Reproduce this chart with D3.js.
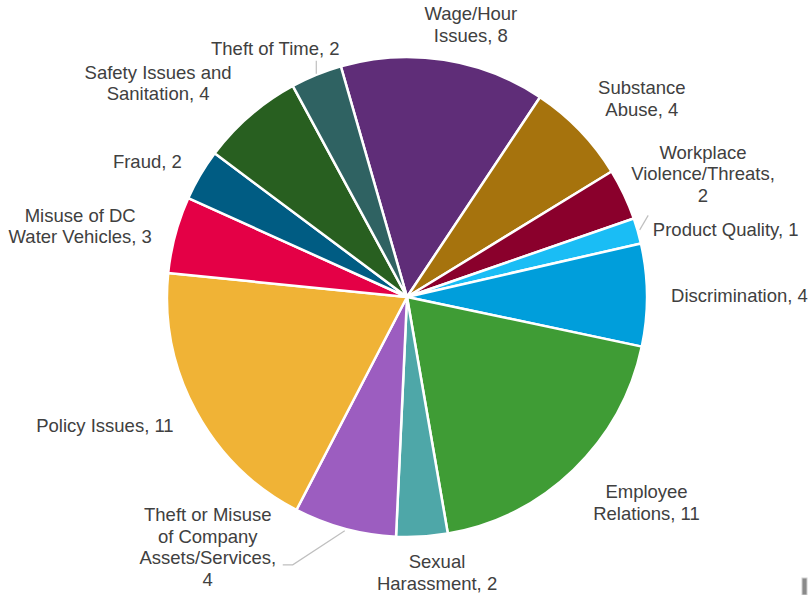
<!DOCTYPE html>
<html>
<head>
<meta charset="utf-8">
<script src="https://cdn.jsdelivr.net/npm/d3@7"></script>
<style>
  html, body { margin: 0; padding: 0; background: #ffffff; }
  svg { display: block; }
  text { font-family: "Liberation Sans", Arial, sans-serif; fill: #404040; }
</style>
</head>
<body>
<svg id="chart" width="809" height="595"></svg>
<script>
// Hotline cases by category, clockwise from the top
const categories = [
  "Wage/Hour Issues", "Substance Abuse", "Workplace Violence/Threats",
  "Product Quality", "Discrimination", "Employee Relations",
  "Sexual Harassment", "Theft or Misuse of Company Assets/Services",
  "Policy Issues", "Misuse of DC Water Vehicles", "Fraud",
  "Safety Issues and Sanitation", "Theft of Time"
];
const values = [8, 4, 2, 1, 4, 11, 2, 4, 11, 3, 2, 4, 2];
const labelLines = [
  ["Wage/Hour", "Issues, 8"],
  ["Substance", "Abuse, 4"],
  ["Workplace", "Violence/Threats,", "2"],
  ["Product Quality, 1"],
  ["Discrimination, 4"],
  ["Employee", "Relations, 11"],
  ["Sexual", "Harassment, 2"],
  ["Theft or Misuse", "of Company", "Assets/Services,", "4"],
  ["Policy Issues, 11"],
  ["Misuse of DC", "Water Vehicles, 3"],
  ["Fraud, 2"],
  ["Safety Issues and", "Sanitation, 4"],
  ["Theft of Time, 2"]
];
const colors = [
  "#5f2d78", "#a6730d", "#8a002c", "#1abdf5", "#009edb", "#3f9c35",
  "#4ea7a8", "#9c5dc0", "#f0b336", "#e40046", "#005c83", "#285f20", "#2f6262"
];

// Layout
const cx = 407, cy = 297, radius = 240;
const startDeg = -16;
const fontSize = 18.5, lineHeight = 21.7;
// Label block centre (x, mean baseline) offset from the slice's outer mid point
const labelOffset = [
  [27, -29], [62, -25.5], [79, -14], [88, 5], [92.5, 7], [73, 39],
  [15, 42.5], [-137, 24.6], [-91, 21], [-95, -2.4], [-53, -7], [-92, -26], [-41, -20]
];
// Leader lines, as points relative to the slice's outer mid point
const leaders = {
  3: [[2, -1], [10.5, -15.5]],
  7: [[0, 2], [-52, 36], [-62, 36]],
  12: [[0, -1], [0, -14]]
};

const svg = d3.select("#chart");
const g = svg.append("g").attr("transform", `translate(${cx},${cy})`);

const toRad = d => d * Math.PI / 180;
const pie = d3.pie().sort(null).value(d => d)
  .startAngle(toRad(startDeg)).endAngle(toRad(startDeg + 360));
const arcs = pie(values);
const arc = d3.arc().innerRadius(0).outerRadius(radius);

g.selectAll("path.slice")
  .data(arcs)
  .join("path")
  .attr("class", "slice")
  .attr("d", arc)
  .attr("fill", (d, i) => colors[i])
  .attr("stroke", "#ffffff")
  .attr("stroke-width", 2.5)
  .attr("stroke-linejoin", "round");

const outerPoint = d => {
  const a = (d.startAngle + d.endAngle) / 2;
  return [radius * Math.sin(a), -radius * Math.cos(a)];
};

// Leader lines
arcs.forEach((d, i) => {
  if (!leaders[i]) return;
  const [ox, oy] = outerPoint(d);
  const pts = leaders[i].map(([dx, dy]) => [ox + dx, oy + dy]);
  g.append("path")
    .attr("d", d3.line()(pts))
    .attr("fill", "none")
    .attr("stroke", "#bfbfbf")
    .attr("stroke-width", 1.2);
});

// Data labels
arcs.forEach((d, i) => {
  const [ox, oy] = outerPoint(d);
  const lx = ox + labelOffset[i][0];
  const lyMean = oy + labelOffset[i][1];
  const lines = labelLines[i];
  const firstBaseline = lyMean - (lines.length - 1) * lineHeight / 2;
  const t = g.append("text")
    .attr("text-anchor", "middle")
    .attr("font-size", fontSize);
  lines.forEach((s, k) => {
    t.append("tspan")
      .attr("x", lx)
      .attr("y", firstBaseline + k * lineHeight)
      .text(s);
  });
});

// Small grey handle in the lower-right corner
svg.append("rect")
  .attr("x", 802).attr("y", 578).attr("width", 5).attr("height", 17)
  .attr("fill", "#8a8a8a").attr("stroke", "#cfcfcf").attr("stroke-width", 1);
</script>
</body>
</html>
